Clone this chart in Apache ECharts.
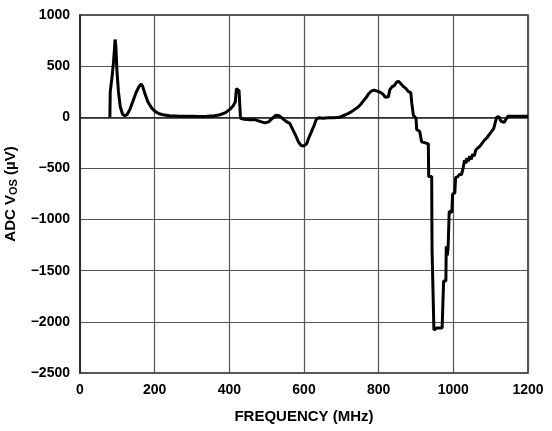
<!DOCTYPE html>
<html>
<head>
<meta charset="utf-8">
<script src="https://cdn.jsdelivr.net/npm/echarts@6/dist/echarts.min.js"></script>
<style>
html, body { margin: 0; padding: 0; background: #fff; }
#chart { width: 552px; height: 431px; }
</style>
</head>
<body>
<div id="chart"></div>
<script>
// frequency (MHz) and ADC offset (uV)
var freqs = [80, 81, 86, 90, 94, 96, 99, 103, 108, 114, 120, 126, 134, 142, 150, 158, 164, 168, 174, 182,
  192, 202, 212, 222, 240, 260, 280, 300, 320, 340, 360, 375, 390, 402, 410, 416, 419, 423, 426, 428,
  430, 440, 455, 470, 482, 495, 505, 515, 525, 533, 542, 552, 562, 570, 578, 585, 592, 600, 607, 613,
  620, 627, 633, 640, 650, 665, 680, 695, 705, 715, 725, 735, 745, 753, 760, 767, 773, 780, 788, 796,
  804, 812, 818, 822, 826, 830, 836, 842, 848, 854, 860, 866, 872, 880, 886, 889, 893, 900, 902, 910,
  915, 925, 933, 934, 942, 943, 947, 948, 952, 955, 970, 973, 974, 980, 981, 984, 986, 989, 996, 998,
  1004, 1006, 1012, 1016, 1022, 1026, 1030, 1034, 1036, 1040, 1044, 1048, 1052, 1056, 1060, 1066, 1072, 1078, 1084, 1090,
  1096, 1102, 1108, 1112, 1116, 1122, 1128, 1136, 1140, 1146, 1160, 1180, 1200];
var vos = [0, 250, 400, 550, 760, 700, 450, 250, 100, 30, 15, 25, 80, 160, 240, 300, 325, 300, 230, 150,
  90, 55, 35, 25, 15, 12, 10, 10, 8, 10, 15, 25, 45, 80, 110, 150, 280, 285, 260, 120,
  -10, -20, -25, -25, -40, -55, -45, -10, 20, 15, -10, -40, -60, -120, -180, -240, -275, -280, -260, -200,
  -140, -80, -20, -5, -10, -5, -5, 0, 15, 30, 50, 75, 100, 130, 165, 195, 230, 255, 265, 255,
  245, 225, 195, 185, 200, 270, 300, 310, 345, 350, 325, 300, 285, 250, 240, 130, 20, -10, -120, -140,
  -240, -250, -260, -580, -580, -1300, -1300, -2080, -2090, -2060, -2060, -2070, -1600, -1600, -1260, -1350, -1270, -920, -930, -750,
  -740, -590, -580, -560, -560, -500, -420, -450, -400, -430, -380, -410, -360, -380, -320, -300, -280, -250, -220, -200,
  -170, -140, -110, -100, 0, 5, -40, -50, -40, 10, 10, 10, 10];

var xTicks = [0, 1200, 200];
var yTicks = [-2500, 1000, 500];

var points = freqs.map(function (f, i) { return [f, vos[i]]; });

var font = 'Liberation Sans, Arial, sans-serif';
var labelStyle = { color: '#000', fontFamily: font, fontWeight: 'bold', fontSize: 14 };
var plain = function (v) { return String(v).replace('-', '\u2212'); };

var chart = echarts.init(document.getElementById('chart'));
chart.setOption({
  animation: false,
  grid: {
    left: 80, right: 24, top: 15, bottom: 58, containLabel: false, outerBoundsMode: 'none',
    show: true, borderColor: '#222', borderWidth: 1.5
  },
  xAxis: {
    type: 'value', min: xTicks[0], max: xTicks[1], interval: xTicks[2],
    name: 'FREQUENCY (MHz)', nameLocation: 'middle', nameGap: 36,
    nameTextStyle: { color: '#000', fontFamily: font, fontWeight: 'bold', fontSize: 15 },
    axisLine: { lineStyle: { color: '#222', width: 1.5 } },
    axisTick: { show: false },
    axisLabel: Object.assign({ margin: 10, formatter: plain }, labelStyle),
    splitLine: { lineStyle: { color: '#555', width: 1.2 } }
  },
  yAxis: {
    type: 'value', min: yTicks[0], max: yTicks[1], interval: yTicks[2],
    name: 'ADC V{sub|OS} (µV)', nameLocation: 'middle', nameGap: 48,
    nameTextStyle: {
      color: '#000', fontFamily: font, fontWeight: 'bold', fontSize: 15,
      rich: { sub: { fontFamily: font, fontWeight: 'bold', fontSize: 11, padding: [6, 0, 0, 0] } }
    },
    axisLine: { lineStyle: { color: '#222', width: 1.5 } },
    axisTick: { show: false },
    axisLabel: Object.assign({ margin: 10, formatter: plain }, labelStyle),
    splitLine: { lineStyle: { color: '#555', width: 1.2 } }
  },
  series: [{
    type: 'line',
    data: points,
    showSymbol: false,
    lineStyle: { color: '#000', width: 3 },
    z: 5
  }]
});
</script>
</body>
</html>
